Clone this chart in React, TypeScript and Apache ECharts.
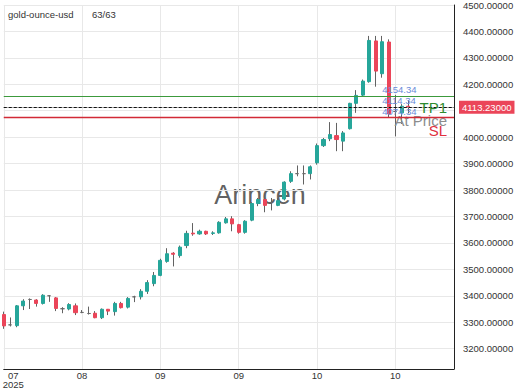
import React, { useEffect, useRef } from 'react';
import * as echarts from 'echarts';

// ---- data ----
const symbolName = 'gold-ounce-usd';
const countText = '63/63';
const watermark = 'Arincen';

const opens = [
  3329, 3290, 3287, 3362, 3386, 3384, 3371, 3400, 3392, 3351,
  3350, 3362, 3337, 3333, 3334, 3317, 3349, 3340, 3371, 3357,
  3396, 3396, 3417, 3446, 3477, 3530, 3561, 3552, 3590, 3637,
  3634, 3644, 3636, 3638, 3676, 3691, 3669, 3640, 3686, 3749,
  3764, 3753, 3742, 3766, 3833, 3862, 3862, 3862, 3903, 3968,
  3994, 4006, 3985, 4032, 4128, 4159, 4210, 4364, 4240, 4360,
  4097, 4092, 4117,
];
const closes = [
  3286, 3290, 3362, 3380, 3386, 3371, 3402, 3400, 3352, 3351,
  3367, 3336, 3337, 3333, 3317, 3349, 3342, 3371, 3355, 3390,
  3396, 3417, 3450, 3477, 3534, 3559, 3557, 3584, 3636, 3634,
  3644, 3634, 3638, 3678, 3691, 3672, 3640, 3682, 3749, 3764,
  3742, 3753, 3760, 3830, 3862, 3862, 3862, 3888, 3968, 3991,
  4010, 3991, 4016, 4128, 4158, 4212, 4366, 4250, 4361, 4088,
  4097, 4117, 4113.23,
];
const lows = [
  3275, 3284, 3281, 3346, 3350, 3359, 3367, 3377, 3342, 3334,
  3345, 3327, 3334, 3329, 3315, 3312, 3327, 3325, 3352, 3352,
  3376, 3386, 3407, 3436, 3474, 3525, 3511, 3544, 3580, 3627,
  3631, 3630, 3630, 3635, 3673, 3644, 3635, 3635, 3682, 3739,
  3716, 3723, 3739, 3761, 3827, 3852, 3821, 3840, 3896, 3963,
  3985, 3947, 3947, 4029, 4092, 4155, 4206, 4191, 4225, 4073,
  4003, 4050, 4090,
];
const highs = [
  3340, 3318, 3365, 3387, 3390, 3387, 3406, 3402, 3395, 3357,
  3372, 3371, 3346, 3359, 3342, 3352, 3350, 3377, 3377, 3395,
  3400, 3425, 3459, 3490, 3540, 3580, 3565, 3590, 3646, 3675,
  3650, 3646, 3644, 3682, 3698, 3701, 3672, 3686, 3754, 3770,
  3770, 3770, 3770, 3833, 3871, 3893, 3893, 3893, 3976, 3997,
  4057, 4054, 4023, 4130, 4178, 4218, 4383, 4383, 4383, 4370,
  4160, 4125, 4140,
];

const tickLabels = ['07\n2025', '08', '09', '09', '10', '10'];
const tickStep = 12;
const slotCount = 70;
const categories = Array.from({ length: slotCount }, (_, i) => `d${i}`);

const currentPrice = 4113.23;
const tp1 = 4154.34;
const atPrice = 4114.34;
const stopLoss = 4074.34;
const entryIndex = 58;

const yMin = 3123;
const yMax = 4500;

const UP = '#26a69a';
const DOWN = '#eb4559';
const WICK = '#626262';

export default function App() {
  const ref = useRef<HTMLDivElement>(null);

  useEffect(() => {
    if (!ref.current) return;
    const chart = echarts.init(ref.current, undefined, { renderer: 'svg' });

    const wickData = opens.map((o, i) => [o, closes[i], lows[i], highs[i]]);
    const bodyData = opens.map((o, i) => [
      o,
      closes[i],
      Math.min(o, closes[i]),
      Math.max(o, closes[i]),
    ]);

    const isTick = (i: number) => i % tickStep === 0 && i / tickStep < tickLabels.length;

    const option: any = {
      animation: false,
      textStyle: { fontFamily: 'Liberation Sans, Arial, sans-serif' },
      grid: {
        left: 3.75,
        right: 66,
        top: 5,
        bottom: 21,
        containLabel: false,
        outerBoundsMode: 'none',
      },
      graphic: [
        {
          type: 'text',
          left: 'center',
          top: 'middle',
          z: 0,
          silent: true,
          style: {
            text: watermark,
            fontSize: 27,
            fontFamily: 'Liberation Sans, Arial, sans-serif',
            fill: 'rgba(70,70,70,0.85)',
          },
        },
        {
          type: 'text',
          left: 8,
          top: 9,
          z: 10,
          style: {
            text: symbolName,
            fontSize: 9.5,
            fontFamily: 'Liberation Sans, Arial, sans-serif',
            fill: '#333',
          },
        },
        {
          type: 'text',
          left: 92,
          top: 9,
          z: 10,
          style: {
            text: countText,
            fontSize: 9.5,
            fontFamily: 'Liberation Sans, Arial, sans-serif',
            fill: '#333',
          },
        },
      ],
      xAxis: {
        type: 'category',
        data: categories,
        boundaryGap: false,
        axisLine: { show: true, onZero: false, lineStyle: { color: '#222', width: 1 } },
        axisTick: { show: false },
        axisLabel: {
          interval: (i: number) => isTick(i),
          margin: 2,
          fontSize: 9.5,
          lineHeight: 9,
          color: '#333',
          formatter: (_v: string, i: number) => {
            const lab = tickLabels[Math.round(i / tickStep)] ?? '';
            if (i === 0) {
              return lab
                .split('\n')
                .map((s) => `{f|${s}}`)
                .join('\n');
            }
            return lab;
          },
          rich: {
            f: { padding: [0, 0, 0, 19], fontSize: 9.5, lineHeight: 9, color: '#333' },
          },
        },
        splitLine: {
          show: true,
          interval: (i: number) => isTick(i),
          lineStyle: { color: '#e8e8e8', width: 1 },
        },
      },
      yAxis: {
        type: 'value',
        position: 'right',
        min: yMin,
        max: yMax,
        splitNumber: 14,
        scale: true,
        axisLine: { show: true, lineStyle: { color: '#222', width: 1 } },
        axisTick: { show: false },
        axisLabel: {
          margin: 9,
          fontSize: 9.5,
          color: '#333',
          formatter: (v: number) =>
            Math.abs(v % 100) < 1e-6 && Math.abs(v - currentPrice) > 40 ? v.toFixed(5) : '',
        },
        splitLine: { show: true, lineStyle: { color: '#e8e8e8', width: 1 } },
      },
      series: [
        {
          name: 'wick',
          type: 'candlestick',
          data: wickData,
          barWidth: 1,
          clip: false,
          z: 2,
          itemStyle: {
            color: WICK,
            color0: WICK,
            borderColor: WICK,
            borderColor0: WICK,
            borderColorDoji: WICK,
            borderWidth: 1,
          },
          markLine: {
            silent: true,
            symbol: 'none',
            z: 6,
            data: [
              {
                yAxis: stopLoss,
                lineStyle: { color: '#d22a36', width: 1.3, type: 'solid' },
                label: {
                  show: true,
                  position: 'insideEndBottom',
                  formatter: 'SL',
                  color: '#e0303e',
                  fontSize: 15,
                  distance: [7, 5],
                },
              },
            ],
          },
        },
        {
          name: 'body',
          type: 'candlestick',
          data: bodyData,
          barWidth: 3.6,
          clip: false,
          z: 3,
          itemStyle: {
            color: UP,
            color0: DOWN,
            borderColor: UP,
            borderColor0: DOWN,
            borderColorDoji: '#6a6a6a',
            borderWidth: 1,
          },
          markLine: {
            silent: true,
            symbol: 'none',
            precision: 2,
            data: [
              {
                yAxis: tp1,
                lineStyle: { color: '#3c9a3c', width: 1, type: 'solid' },
                label: {
                  show: true,
                  position: 'insideEndBottom',
                  formatter: 'TP1',
                  color: '#2e8b2e',
                  fontSize: 15,
                  distance: [7, 4],
                },
              },
              {
                yAxis: atPrice,
                lineStyle: { color: '#9a9a9a', width: 0.8, type: 'solid' },
                label: {
                  show: true,
                  position: 'insideEndBottom',
                  formatter: 'At Price',
                  color: '#8c8c8c',
                  fontSize: 15,
                  distance: [7, 6],
                },
              },
              {
                yAxis: currentPrice,
                lineStyle: { color: '#111', width: 1.2, type: [3, 2] },
                label: {
                  show: true,
                  position: 'end',
                  formatter: currentPrice.toFixed(5),
                  color: '#fff',
                  fontSize: 9.5,
                  backgroundColor: DOWN,
                  padding: [2, 3, 1, 3],
                  distance: 5,
                },
              },
            ],
          },
          markPoint: {
            silent: true,
            symbol: 'circle',
            symbolSize: 0,
            data: [tp1, atPrice, stopLoss].map((v) => ({
              coord: [categories[entryIndex], v],
              value: v,
            })),
            label: {
              show: true,
              position: 'right',
              distance: 0,
              offset: [0, -6.5],
              fontSize: 9.5,
              color: '#6a8ad8',
              formatter: (p: any) => Number(p.value).toFixed(2),
            },
          },
        },
      ],
    };

    chart.setOption(option);
    return () => chart.dispose();
  }, []);

  return (
    <div
      ref={ref}
      style={{ position: 'absolute', left: 0, top: 0, width: 520, height: 390 }}
    />
  );
}
